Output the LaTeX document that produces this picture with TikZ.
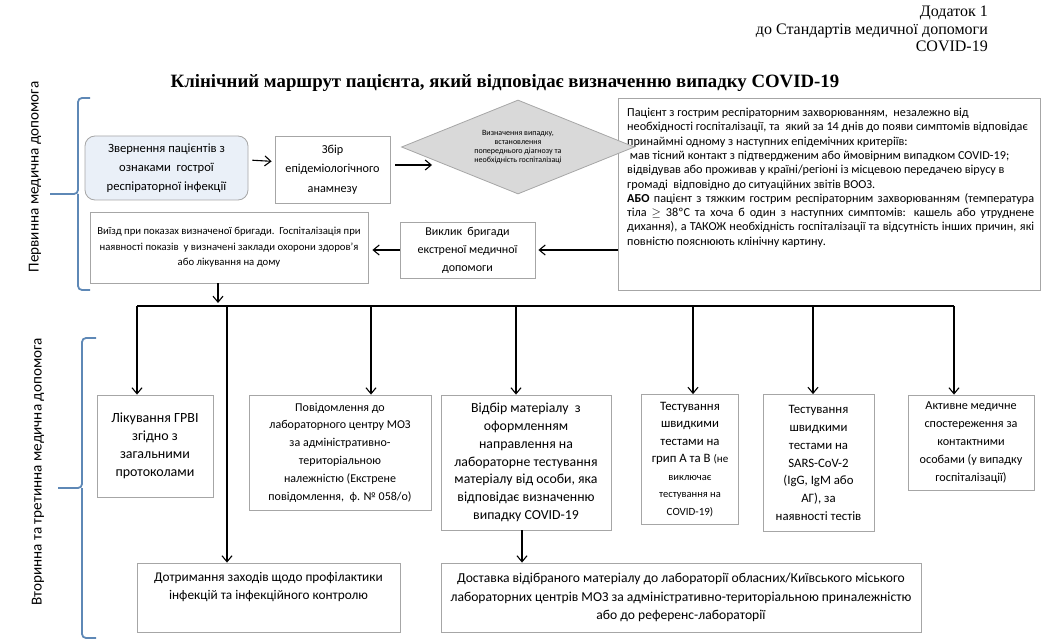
\documentclass[tikz,border=0pt]{standalone}
\usepackage{fontspec}
\setmainfont{Carlito}
\newfontfamily\headfont{Liberation Serif}
\usetikzlibrary{shapes.geometric,arrows.meta}

\definecolor{boxline}{HTML}{A6A6A6}
\definecolor{startfill}{HTML}{EAF0F8}
\definecolor{decisfill}{HTML}{D9D9D9}
\definecolor{bracecol}{HTML}{5E88B6}

\begin{document}
\begin{tikzpicture}[x=1pt, y=-1pt, >={Straight Barb[length=6pt,width=10pt]},
    box/.style={draw=boxline, line width=0.8pt, fill=white, align=center, inner sep=1pt,
        font=\fontsize{13}{18}\selectfont},
    wire/.style={line width=1.1pt},
    brace/.style={draw=bracecol, line width=1.8pt, rounded corners=4pt},
    sidetext/.style={rotate=90, font=\fontsize{15.2}{17}\selectfont}]
    \useasboundingbox (0,0) rectangle (1061,639);

    % header and title
    \node[anchor=north east, align=right, inner sep=0pt, font=\headfont\fontsize{16}{17.5}\selectfont] (hdr) at (988,6)
        {Додаток 1\\до Стандартів медичної допомоги\\COVID-19};
    \node[font=\headfont\bfseries\fontsize{18.8}{21}\selectfont] (title) at (505,83)
        {Клінічний маршрут пацієнта, який відповідає визначенню випадку COVID-19};

    % braces on the left
    \draw[brace] (90,98) -- (78,98) -- (78,194) -- (50,194);
    \draw[brace] (78,194) -- (78,290) -- (90,290);
    \draw[brace] (96,338) -- (82,338) -- (82,488) -- (58,488);
    \draw[brace] (82,488) -- (82,638) -- (96,638);
    \node[sidetext] (lvl1) at (35,177) {Первинна медична допомога};
    \node[sidetext] (lvl2) at (38,472) {Вторинна та третинна медична допомога};

    % primary care
    \node[box, fill=startfill, rounded corners=10pt, minimum width=163pt, minimum height=64pt,
        font=\fontsize{12.6}{19}\selectfont] (A) at (166.5,168)
        {Звернення пацієнтів з\\ознаками\ \ гострої\\респіраторної інфекції};
    \node[box, minimum width=115pt, minimum height=67pt, font=\fontsize{12.2}{19.5}\selectfont] (B) at (332.5,169.5)
        {Збір\\епідеміологічного\\анамнезу};
    \node[box, minimum width=422pt, minimum height=192pt] (C) at (829,194) {};
    \node[anchor=north west, align=left, inner sep=0pt, font=\fontsize{12.2}{14.3}\selectfont] (Ctxt) at (627,108)
        {Пацієнт з гострим респіраторним захворюванням,\ \ незалежно від\\
        необхідності госпіталізації, та\ \ який за 14 днів до появи симптомів відповідає\\
        принаймні одному з наступних епідемічних критеріїв:\\
        \ мав тісний контакт з підтвердженим або ймовірним випадком COVID-19;\\
        відвідував або проживав у країні/регіоні із місцевою передачею вірусу в\\
        громаді\ \ відповідно до ситуаційних звітів ВООЗ.\\
        \makebox[407pt][s]{\textbf{АБО} пацієнт з тяжким гострим респіраторним захворюванням (температура}\\
        \makebox[407pt][s]{тіла $\geq$ 38ºС та хоча б один з наступних симптомів: кашель або утруднене}\\
        \makebox[407pt][s]{дихання), а ТАКОЖ необхідність госпіталізації та відсутність інших причин, які}\\
        повністю пояснюють клінічну картину.};
    \node[box, shape=diamond, aspect=2.5, fill=decisfill, inner sep=0pt, minimum width=233pt, minimum height=94pt,
        font=\fontsize{8}{9}\selectfont] (dia) at (518,147)
        {Визначення випадку,\\встановлення\\попереднього діагнозу та\\необхідність госпіталізаці};
    \node[box, minimum width=135pt, minimum height=56pt, font=\fontsize{12}{18}\selectfont] (D) at (467.5,250)
        {Виклик\ \ бригади\\екстреної медичної\\допомоги};
    \node[box, minimum width=278pt, minimum height=71pt, font=\fontsize{10.7}{15.5}\selectfont] (E) at (229,247.5)
        {Виїзд при показах визначеної бригади.\ \ Госпіталізація при\\наявності показів\ \ у визначені заклади охорони здоров’я\\або лікування на дому};

    % secondary and tertiary care
    \node[box, minimum width=116pt, minimum height=102pt, font=\fontsize{14}{18}\selectfont] (F) at (155,446)
        {Лікування ГРВІ\\згідно з\\загальними\\протоколами};
    \node[box, minimum width=182pt, minimum height=115pt, font=\fontsize{12}{17.8}\selectfont] (G) at (340,452.5)
        {Повідомлення до\\лабораторного центру МОЗ\\за адміністративно-\\територіальною\\належністю (Екстрене\\повідомлення,\ \ ф. № 058/о)};
    \node[box, minimum width=170pt, minimum height=135pt, font=\fontsize{13.8}{17.8}\selectfont] (H) at (526,462.5)
        {Відбір матеріалу\ \ з\\оформленням\\направлення на\\лабораторне тестування\\матеріалу від особи, яка\\відповідає визначенню\\випадку COVID-19};
    \node[box, minimum width=97pt, minimum height=130pt, font=\fontsize{12.8}{17.5}\selectfont] (J) at (690,459.5)
        {Тестування\\швидкими\\тестами на\\грип А та В {\fontsize{11}{17.5}\selectfont(не}\\
        {\fontsize{10.5}{16.5}\selectfont виключає}\\{\fontsize{10.5}{16.5}\selectfont тестування на}\\{\fontsize{11}{16.5}\selectfont COVID-19)}};
    \node[box, minimum width=111pt, minimum height=137pt, font=\fontsize{12.8}{17.8}\selectfont] (K) at (818.5,463)
        {Тестування\\швидкими\\тестами на\\SARS-CoV-2\\(IgG, IgM або\\АГ), за\\наявності тестів};
    \node[box, minimum width=126pt, minimum height=95pt, font=\fontsize{12.2}{18}\selectfont] (L) at (971,442.5)
        {Активне медичне\\спостереження за\\контактними\\особами (у випадку\\госпіталізації)};
    \node[box, minimum width=263pt, minimum height=69pt, font=\fontsize{13.3}{18}\selectfont] (I) at (268.5,597.5)
        {Дотримання заходів щодо профілактики\\інфекцій та інфекційного контролю\\[6pt]};
    \node[box, minimum width=480pt, minimum height=69pt, font=\fontsize{13.6}{18.5}\selectfont] (M) at (681,597.5)
        {Доставка відібраного матеріалу до лабораторії обласних/Київського міського\\лабораторних центрів МОЗ за адміністративно-територіальною приналежністю\\або до референс-лабораторії};

    % connectors
    \draw[wire, ->, shorten <=4pt, shorten >=3pt] ([yshift=8pt]A.east) -- ([yshift=8pt]B.west);
    \coordinate (t1) at (432,165);
    \draw[wire, ->, shorten <=5pt] (B.east |- t1) -- (t1);
    \draw[wire, ->, shorten >=3pt] (C.west |- D) -- (D.east);
    \draw[wire, ->, shorten >=4pt] (D.west) -- (D.west -| E.east);
    \coordinate (e1) at (218,306);
    \draw[wire, ->, shorten >=3pt] (e1 |- E.south) -- (e1);
    \draw[wire] (137,306) coordinate (busL) -- (954,306) coordinate (busR);
    \foreach \x/\n in {137/F, 227/I, 371/G, 516/H, 693/J, 813/K, 954/L}
        \draw[wire, ->] (\x,306) coordinate (b\n) -- (b\n |- \n.north);
    \coordinate (h1) at (522,0);
    \draw[wire, ->] (h1 |- H.south) -- (h1 |- M.north);
\end{tikzpicture}
\end{document}
